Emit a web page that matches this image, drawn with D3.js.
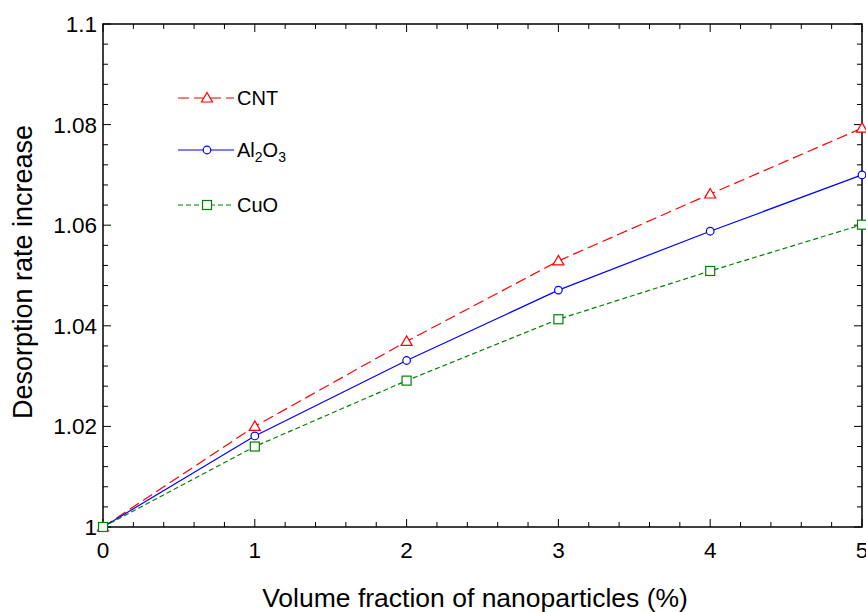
<!DOCTYPE html>
<html>
<head>
<meta charset="utf-8">
<script src="https://cdn.jsdelivr.net/npm/d3@7"></script>
<style>
  body { margin: 0; background: #fff; }
  text { font-family: "Liberation Sans", Arial, sans-serif; fill: #000; }
</style>
</head>
<body>
<svg id="chart" width="866" height="612"></svg>
<script>
// data
const fractions = [0, 1, 2, 3, 4, 5];
const cntValues = [1, 1.0200, 1.0369, 1.0529, 1.0662, 1.0793];
const al2o3Values = [1, 1.0181, 1.0331, 1.0471, 1.0588, 1.0700];
const cuoValues = [1, 1.0160, 1.0291, 1.0413, 1.0509, 1.0601];
const xTickLabels = ["0", "1", "2", "3", "4", "5"];
const yTickValues = [1, 1.02, 1.04, 1.06, 1.08, 1.1];
const yTickLabels = ["1", "1.02", "1.04", "1.06", "1.08", "1.1"];

let svg = d3.select("#chart");
let plotLeft = 103, plotRight = 862, plotTop = 24, plotBottom = 527;

let xScale = d3.scaleLinear().domain([0, 5]).range([plotLeft, plotRight]);
let yScale = d3.scaleLinear().domain([1, 1.1]).range([plotBottom, plotTop]);

// minor ticks (inward) on all four sides
let xMinor = d3.range(0, 5.0001, 0.2);
let yMinor = d3.range(1, 1.10001, 0.004);
let ticks = svg.append("g").attr("stroke", "#000").attr("stroke-width", 1);
xMinor.forEach((v, i) => {
  let len = (i % 5 === 0) ? 8 : 5;
  ticks.append("line").attr("x1", xScale(v)).attr("x2", xScale(v)).attr("y1", plotBottom).attr("y2", plotBottom - len);
  ticks.append("line").attr("x1", xScale(v)).attr("x2", xScale(v)).attr("y1", plotTop).attr("y2", plotTop + len);
});
yMinor.forEach((v, i) => {
  let len = (i % 5 === 0) ? 8 : 5;
  ticks.append("line").attr("x1", plotLeft).attr("x2", plotLeft + len).attr("y1", yScale(v)).attr("y2", yScale(v));
  ticks.append("line").attr("x1", plotRight).attr("x2", plotRight - len).attr("y1", yScale(v)).attr("y2", yScale(v));
});

// frame
svg.append("rect")
  .attr("x", plotLeft).attr("y", plotTop)
  .attr("width", plotRight - plotLeft).attr("height", plotBottom - plotTop)
  .attr("fill", "none").attr("stroke", "#000").attr("stroke-width", 1.5);

// tick labels
svg.append("g").selectAll("text").data(fractions).join("text")
  .attr("x", d => xScale(d)).attr("y", 558)
  .attr("text-anchor", "middle").attr("font-size", 22.5)
  .text((d, i) => xTickLabels[i]);
svg.append("g").selectAll("text").data(yTickValues).join("text")
  .attr("x", 97).attr("y", d => yScale(d) + 8)
  .attr("text-anchor", "end").attr("font-size", 22.5)
  .text((d, i) => yTickLabels[i]);

// axis titles
svg.append("text")
  .attr("x", 475).attr("y", 607)
  .attr("text-anchor", "middle").attr("font-size", 26.5)
  .text("Volume fraction of nanoparticles (%)");
svg.append("text")
  .attr("transform", "translate(32,272) rotate(-90)")
  .attr("text-anchor", "middle").attr("font-size", 27)
  .text("Desorption rate increase");

let series = [
  { name: "CNT", values: cntValues, color: "#ff0000", dash: "11,5", marker: "triangle", ly: 98 },
  { name: "Al2O3", values: al2o3Values, color: "#0000ff", dash: null, marker: "circle", ly: 150 },
  { name: "CuO", values: cuoValues, color: "#008000", dash: "5,3", marker: "square", ly: 205 }
];

let lineGen = d3.line().x((d, i) => xScale(fractions[i])).y(d => yScale(d));

function drawMarker(g, type, x, y, color) {
  if (type === "triangle") {
    g.append("path")
      .attr("d", `M${x},${y - 5.5}L${x + 5.5},${y + 4}L${x - 5.5},${y + 4}Z`)
      .attr("fill", "#fff").attr("stroke", color).attr("stroke-width", 1.2);
  } else if (type === "circle") {
    g.append("circle").attr("cx", x).attr("cy", y).attr("r", 3.8)
      .attr("fill", "#fff").attr("stroke", color).attr("stroke-width", 1.2);
  } else {
    g.append("rect").attr("x", x - 4.5).attr("y", y - 4.5).attr("width", 9).attr("height", 9)
      .attr("fill", "#fff").attr("stroke", color).attr("stroke-width", 1.2);
  }
}

series.forEach(s => {
  let g = svg.append("g");
  g.append("path").datum(s.values)
    .attr("d", lineGen)
    .attr("fill", "none").attr("stroke", s.color).attr("stroke-width", 1.2)
    .attr("stroke-dasharray", s.dash);
  s.values.forEach((v, i) => drawMarker(g, s.marker, xScale(fractions[i]), yScale(v), s.color));

  // legend entry
  g.append("line").attr("x1", 178).attr("x2", 234).attr("y1", s.ly).attr("y2", s.ly)
    .attr("stroke", s.color).attr("stroke-width", 1.2).attr("stroke-dasharray", s.dash);
  drawMarker(g, s.marker, 207, s.ly, s.color);
  let t = g.append("text").attr("x", 237).attr("y", s.ly + 7).attr("font-size", 20);
  if (s.name === "Al2O3") {
    t.append("tspan").text("Al");
    t.append("tspan").attr("font-size", 14).attr("dy", 5).text("2");
    t.append("tspan").attr("dy", -5).text("O");
    t.append("tspan").attr("font-size", 14).attr("dy", 5).text("3");
  } else {
    t.text(s.name);
  }
});
</script>
</body>
</html>
